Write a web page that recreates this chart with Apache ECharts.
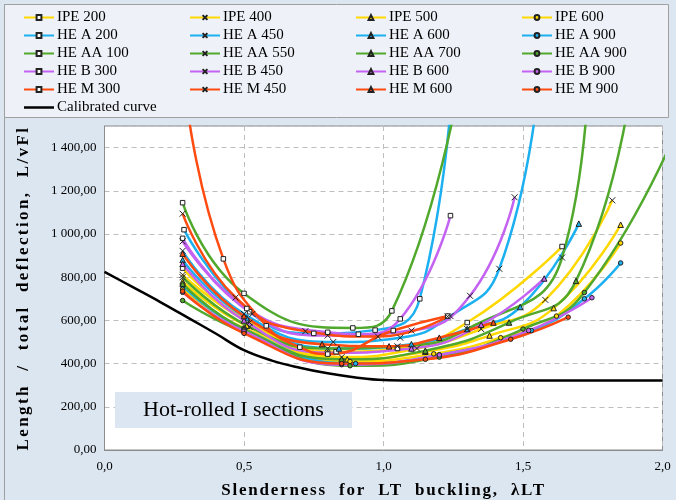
<!DOCTYPE html>
<html><head><meta charset="utf-8">
<script src="https://cdn.jsdelivr.net/npm/echarts@6/dist/echarts.min.js"></script>
<style>html,body{margin:0;padding:0;background:#dce6f1}#c{width:676px;height:500px}</style>
</head><body><div id="c"></div>
<script>
// ---- data (λLT, L/vFl) ----
const ipe200 = [[0.28,842],[0.51,600],[0.83,455],[1.05,470],[1.30,590],[1.64,942]];
const ipe400 = [[0.28,811],[0.52,590],[0.85,430],[1.12,470],[1.35,560],[1.58,695],[1.82,1156]];
const ipe500 = [[0.28,780],[0.51,575],[0.87,420],[1.15,455],[1.38,530],[1.61,657],[1.85,1043]];
const ipe600 = [[0.28,745],[0.50,565],[0.88,410],[1.18,445],[1.42,520],[1.62,620],[1.85,958]];
const hea200 = [[0.285,1020],[0.52,640],[0.75,540],[0.97,555],[1.13,700],[1.26,2000]];
const hea450 = [[0.28,922],[0.50,630],[0.82,500],[1.06,520],[1.24,620],[1.415,839],[1.56,1750]];
const hea600 = [[0.28,880],[0.51,610],[0.84,470],[1.10,490],[1.30,560],[1.49,662],[1.70,1048]];
const hea900 = [[0.28,760],[0.50,560],[0.90,400],[1.20,440],[1.53,553],[1.72,700],[1.85,866]];
const heaa100 = [[0.28,1145],[0.50,725],[0.89,565],[1.03,644],[1.27,1680]];
const heaa550 = [[0.28,800],[0.52,570],[0.80,470],[1.05,480],[1.30,560],[1.64,891],[1.74,1900]];
const heaa700 = [[0.28,770],[0.50,560],[0.85,420],[1.15,460],[1.45,590],[1.69,783],[1.90,1800]];
const heaa900 = [[0.28,692],[0.50,545],[0.88,390],[1.20,430],[1.50,560],[1.72,729],[2.05,1480]];
const heb300 = [[0.28,980],[0.51,655],[0.80,545],[0.91,536],[1.06,607],[1.24,1085]];
const heb450 = [[0.28,966],[0.53,630],[0.80,530],[1.10,553],[1.31,714],[1.47,1170]];
const heb600 = [[0.28,862],[0.50,600],[0.80,450],[1.10,470],[1.35,580],[1.576,794]];
const heb900 = [[0.28,730],[0.50,550],[0.85,395],[1.20,440],[1.52,553],[1.747,705]];
const hem300 = [[0.30,1560],[0.426,885],[0.58,575],[0.70,476],[0.80,444],[1.035,553],[1.23,620]];
const hem450 = [[0.28,1094],[0.47,706],[0.72,550],[0.98,525],[1.23,618]];
const hem600 = [[0.28,909],[0.50,620],[0.78,490],[1.02,480],[1.20,520],[1.394,590]];
const hem900 = [[0.28,735],[0.50,540],[0.85,400],[1.15,420],[1.456,513],[1.662,615]];
const calibrated = [[0,825],[0.1,755],[0.2,685],[0.3,612],[0.4,538],[0.5,462],[0.6,414],[0.7,381],[0.8,355],[0.9,336],[1.0,324],[1.1,322],[2.0,322]];

const seriesNames = ['IPE 200','IPE 400','IPE 500','IPE 600','HE A 200','HE A 450','HE A 600','HE A 900',
  'HE AA 100','HE AA 550','HE AA 700','HE AA 900','HE B 300','HE B 450','HE B 600','HE B 900',
  'HE M 300','HE M 450','HE M 600','HE M 900'];
const seriesData = [ipe200,ipe400,ipe500,ipe600,hea200,hea450,hea600,hea900,
  heaa100,heaa550,heaa700,heaa900,heb300,heb450,heb600,heb900,hem300,hem450,hem600,hem900];
const familyColors = ['#ffd800','#1cb0f0','#50a82c','#c462f2','#ff4a10'];
const calibratedName = 'Calibrated curve';
const xTitle = 'Slenderness  for  LT  buckling,  λLT';
const yTitle = 'Length  /  total  deflection,  L/vFl';
const noteText = 'Hot-rolled I sections';

// ---- letter spacing only for the two bold axis titles (canvas feature) ----
const titleSpacing = {};
titleSpacing[xTitle] = '1.8px';
titleSpacing[yTitle] = '2.4px';
const origFill = CanvasRenderingContext2D.prototype.fillText;
CanvasRenderingContext2D.prototype.fillText = function(t, x, y, w) {
  const sp = titleSpacing[t];
  if (sp !== undefined && 'letterSpacing' in this) {
    this.save();
    this.letterSpacing = sp;
    if (w === undefined) origFill.call(this, t, x, y); else origFill.call(this, t, x, y, w);
    this.restore();
    if ('letterSpacing' in this) this.letterSpacing = '0px';
    return;
  }
  if ('letterSpacing' in this && this.letterSpacing !== '0px') this.letterSpacing = '0px';
  if (w === undefined) origFill.call(this, t, x, y); else origFill.call(this, t, x, y, w);
};

// ---- styling ----
const SERIF = '"Liberation Serif","DejaVu Serif",serif';
const markerDefs = [
  {symbol:'rect', size:4.5, fill:'#ffffff'},
  {symbol:'path://M0,0L10,10M10,0L0,10', size:6, fill:'transparent'},
  {symbol:'triangle', size:5.5, fill:null},
  {symbol:'circle', size:4.5, fill:null}
];

const series = seriesData.map((d,i)=>{
  const color = familyColors[Math.floor(i/4)];
  const m = markerDefs[i%4];
  return {
    name: seriesNames[i], type:'line', data:d, smooth:0.5, clip:true,
    symbol:m.symbol, symbolSize:m.size, showSymbol:true,
    lineStyle:{color:color, width:2.5},
    itemStyle:{color: m.fill || color, borderColor:'#222', borderWidth:1},
    emphasis:{disabled:true}, animation:false
  };
});
series.push({
  name: calibratedName, type:'line', data:calibrated, smooth:0.4, symbol:'none',
  lineStyle:{color:'#000', width:2.5}, itemStyle:{color:'#000'}, animation:false
});

const legendLefts = [23, 189, 355, 521];
const legends = legendLefts.map((l,k)=>{
  const data = [0,1,2,3,4].map(r=>seriesNames[r*4+k]);
  if (k===0) data.push({name:calibratedName, icon:'path://M0,0L30,0L30,2.5L0,2.5Z'});
  return {
    orient:'vertical', left:l, top:10, padding:0, itemWidth:30, itemHeight:6, itemGap:3,
    data:data, selectedMode:false,
    textStyle:{fontFamily:SERIF, fontSize:15, color:'#000', padding:[0,0,0,-2]}
  };
});

const fmtY = v => {
  const s = v.toFixed(2).replace('.',',');
  return s.replace(/^(\d)(\d{3})/, '$1 $2');
};

const chart = echarts.init(document.getElementById('c'), null, {renderer:'canvas'});
chart.setOption({
  backgroundColor:'#dce6f1',
  animation:false,
  legend: legends,
  grid:{left:104.5, right:13.5, top:126, bottom:50, outerBoundsMode:'none', containLabel:false,
        show:true, backgroundColor:'#ffffff', borderColor:'#8c8c8c', borderWidth:1},
  xAxis:{
    type:'value', min:0, max:2, interval:0.5,
    name:xTitle, nameLocation:'middle', nameGap:32,
    nameTextStyle:{fontFamily:SERIF, fontWeight:'bold', fontSize:17, color:'#000'},
    axisLine:{show:true, lineStyle:{color:'#8c8c8c'}}, axisTick:{show:false},
    axisLabel:{formatter:v=>v.toFixed(1).replace('.',','), fontFamily:SERIF, fontSize:13, color:'#000', margin:10},
    splitLine:{show:true, lineStyle:{color:'#bdbdbd', type:[5,4], width:1}}
  },
  yAxis:{
    type:'value', min:0, max:1500, interval:200,
    name:yTitle, nameLocation:'middle', nameGap:72,
    nameTextStyle:{fontFamily:SERIF, fontWeight:'bold', fontSize:17, color:'#000'},
    axisLine:{show:true, lineStyle:{color:'#8c8c8c'}}, axisTick:{show:false},
    axisLabel:{formatter:fmtY, fontFamily:SERIF, fontSize:13, color:'#000', margin:8, showMaxLabel:false},
    splitLine:{show:true, lineStyle:{color:'#bdbdbd', type:[5,4], width:1}}
  },
  graphic:[
    {type:'line', z:-10, shape:{x1:4.5, y1:4, x2:4.5, y2:500}, style:{stroke:'#a0a0a0', lineWidth:1}},
    {type:'rect', z:-10, shape:{x:4.5, y:4.5, width:664, height:113}, style:{fill:'#eef2f8', stroke:'#a0a0a0', lineWidth:1}},
    {type:'rect', z:100, shape:{x:115, y:392, width:237, height:36}, style:{fill:'#dce6f2'}},
    {type:'text', z:101, x:233.5, y:410, style:{text:noteText, font:'22px '+SERIF, fill:'#000', align:'center', verticalAlign:'middle'}}
  ],
  series: series
});
</script></body></html>
